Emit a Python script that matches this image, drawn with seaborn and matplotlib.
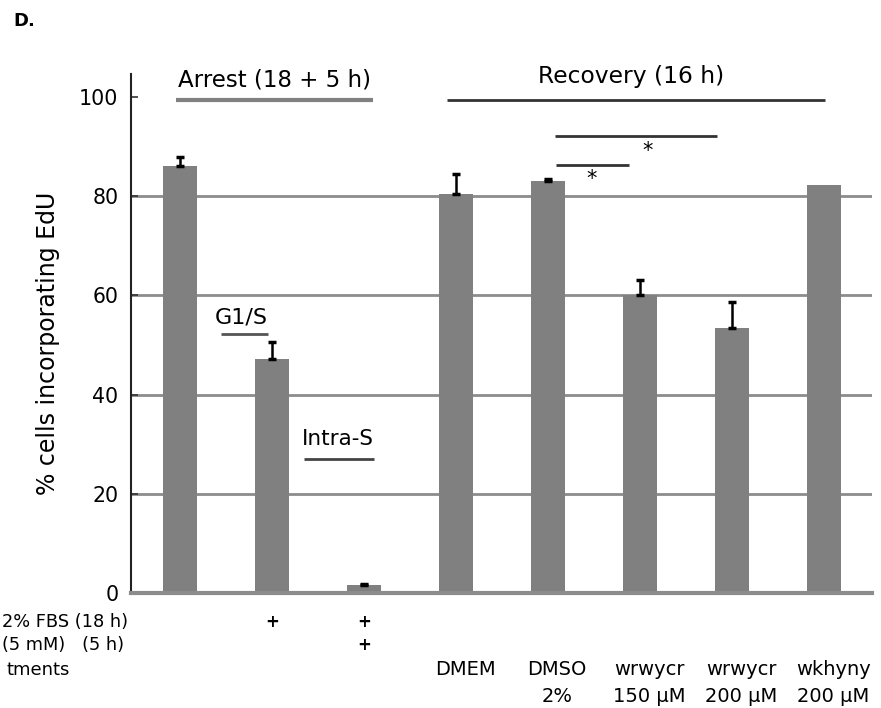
import matplotlib
matplotlib.use("Agg")
import matplotlib.pyplot as plt
import matplotlib.transforms as mtransforms
import seaborn as sns
import numpy as np
import pandas as pd

# ---- data ----
categories = ["Ctrl", "FBS", "FBS+HU", "DMEM", "DMSO", "wrwycr150", "wrwycr200", "wkhyny200"]
values = [86.0, 47.1, 1.6, 80.4, 83.0, 60.0, 53.5, 82.2]
err_up = [1.9, 3.4, 0.3, 4.1, 0.4, 3.0, 5.2, 0.0]
fbs_row = ["", "+", "+", "", "", "", "", ""]
hu_row = ["", "", "+", "", "", "", "", ""]
treat_line1 = ["", "", "", "DMEM", "DMSO", "wrwycr", "wrwycr", "wkhyny"]
treat_line2 = ["", "", "", "", "2%", "150 \u00b5M", "200 \u00b5M", "200 \u00b5M"]
row_labels = ["2% FBS (18 h)", "(5 mM)   (5 h)", "tments"]
yticks = [0, 20, 40, 60, 80, 100]

sns.set_theme(style="white")
plt.rcParams["font.family"] = ["DejaVu Sans"]
plt.rcParams["text.color"] = "black"
plt.rcParams["ytick.labelcolor"] = "black"

df = pd.DataFrame({"cat": categories, "val": values})

fig = plt.figure(figsize=(8.81, 7.08), dpi=100)
ax = fig.add_axes([131 / 881, 1 - 593 / 708, 741 / 881, 519 / 708])

for t in yticks[1:-1]:
    ax.axhline(t, color="#8c8c8c", lw=2, zorder=0)

sns.barplot(data=df, x="cat", y="val", order=categories, color="#808080",
            saturation=1, width=0.376, errorbar=None, ax=ax, zorder=2)
for p in ax.patches:
    p.set_edgecolor("none")

xs = np.arange(len(categories))
mask = np.array(err_up) > 0
ax.errorbar(xs[mask], np.array(values)[mask],
            yerr=[np.zeros(mask.sum()), np.array(err_up)[mask]],
            fmt="none", ecolor="black", elinewidth=1.8, capsize=3, capthick=2.5, zorder=3)

ax.set_xlim(-0.533, 7.52)
ax.set_ylim(0, 104.6)
ax.set_yticks(yticks)
ax.set_yticklabels([str(t) for t in yticks], fontsize=14.8)
ax.set_xticks([])
ax.set_xlabel("")
ax.set_ylabel("")
ax.tick_params(axis="y", direction="in", length=5, width=1.2, color="#333333", pad=9, left=True)
for s in ["top", "right"]:
    ax.spines[s].set_visible(False)
ax.spines["left"].set_color("#222222")
ax.spines["left"].set_linewidth(1.5)
ax.spines["bottom"].set_color("#8c8c8c")
ax.spines["bottom"].set_linewidth(3)

fig.text(48 / 881, 1 - 343 / 708, "% cells incorporating EdU", rotation=90,
         ha="center", va="center", fontsize=17)

# header annotations (data coordinates)
kw = dict(clip_on=False, solid_capstyle="butt")
ax.text(1.03, 103.4, "Arrest (18 + 5 h)", ha="center", va="center", fontsize=16.5)
ax.plot([-0.04, 2.1], [99.4, 99.4], color="#808080", lw=3, **kw)
ax.text(4.9, 104.0, "Recovery (16 h)", ha="center", va="center", fontsize=16.8)
ax.plot([2.9, 7.01], [99.3, 99.3], color="#333333", lw=2, **kw)
ax.plot([4.08, 5.84], [92.2, 92.2], color="#333333", lw=2, **kw)
ax.text(5.08, 89.0, "*", ha="center", va="center", fontsize=15)
ax.plot([4.09, 4.88], [86.2, 86.2], color="#333333", lw=2, **kw)
ax.text(4.47, 83.4, "*", ha="center", va="center", fontsize=15)
ax.text(0.67, 55.6, "G1/S", ha="center", va="center", fontsize=16)
ax.plot([0.45, 0.96], [52.2, 52.2], color="#555555", lw=2, **kw)
ax.text(1.72, 31.0, "Intra-S", ha="center", va="center", fontsize=15.5)
ax.plot([1.35, 2.11], [27.0, 27.0], color="#444444", lw=2, **kw)

# rows beneath the axis
trans = mtransforms.blended_transform_factory(ax.transData, ax.transAxes)
row_y = [-0.056, -0.100, -0.148, -0.200]
for i in range(len(categories)):
    if fbs_row[i]:
        ax.text(i, row_y[0], fbs_row[i], transform=trans, ha="center", va="center",
                fontsize=12, fontweight="bold")
    if hu_row[i]:
        ax.text(i, row_y[1], hu_row[i], transform=trans, ha="center", va="center",
                fontsize=12, fontweight="bold")
    if treat_line1[i]:
        ax.text(i + 0.1, row_y[2], treat_line1[i], transform=trans, ha="center",
                va="center", fontsize=14)
    if treat_line2[i]:
        ax.text(i + 0.1, row_y[3], treat_line2[i], transform=trans, ha="center",
                va="center", fontsize=14)

fig.text(2 / 881, 1 - 622 / 708, row_labels[0], ha="left", va="center", fontsize=12.8)
fig.text(2 / 881, 1 - 645 / 708, row_labels[1], ha="left", va="center", fontsize=12.8)
fig.text(70 / 881, 1 - 670 / 708, row_labels[2], ha="right", va="center", fontsize=13)

fig.text(13 / 881, 1 - 21 / 708, "D.", ha="left", va="center", fontsize=13, fontweight="bold")

fig.savefig("out.png", dpi=100)
